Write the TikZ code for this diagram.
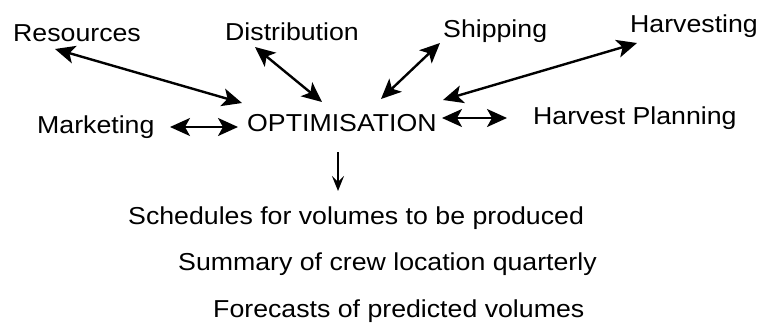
\documentclass[tikz,border=0pt]{standalone}
\usepackage{fontspec}
\setmainfont{Liberation Sans}[FakeStretch=1.09]
\usetikzlibrary{arrows.meta}
\begin{document}
\begin{tikzpicture}[x=1pt,y=-1pt,
  lbl/.style={anchor=base west,inner sep=0pt,font=\fontsize{24.5}{28}\selectfont},
  link/.style={line width=2.4pt,>={Stealth[length=20pt,width=18pt,inset=5pt]},<->},
  outp/.style={line width=1.6pt,>={Stealth[length=15pt,width=12pt,inset=6pt]},->}]
\useasboundingbox (0,0) rectangle (760,324);
\node[lbl] (res) at (13,41.7) {Resources};
\node[lbl] (dis) at (225,40) {Distribution};
\node[lbl] (shp) at (443,37) {Shipping};
\node[lbl] (hrv) at (630,32) {Harvesting};
\node[lbl] (mkt) at (37,133) {Marketing};
\node[lbl] (opt) at (247,131) {OPTIMISATION};
\node[lbl] (hp)  at (533,124) {Harvest Planning};
\node[lbl] (sch) at (128,224) {Schedules for volumes to be produced};
\node[lbl] (sum) at (178,270) {Summary of crew location quarterly};
\node[lbl] (fc)  at (213,317) {Forecasts of predicted volumes};
\draw[link] ([shift={(42,7.3)}]res.base west) -- ([shift={(-5,-28)}]opt.base west);
\draw[link] ([shift={(30,7)}]dis.base west) -- ([shift={(75,-29)}]opt.base west);
\draw[link] ([shift={(-3,6)}]shp.base west) -- ([shift={(134,-32)}]opt.base west);
\draw[link] ([shift={(7,11)}]hrv.base west) -- ([shift={(196,-31)}]opt.base west);
\draw[link,line width=2pt] ([shift={(133,-6)}]mkt.base west) -- ([shift={(-9,-4)}]opt.base west);
\draw[link,line width=2pt] ([shift={(195,-13)}]opt.base west) -- ([shift={(-26,-6)}]hp.base west);
\draw[outp] ([shift={(91,21)}]opt.base west) -- ([shift={(210,-33)}]sch.base west);
\end{tikzpicture}
\end{document}
